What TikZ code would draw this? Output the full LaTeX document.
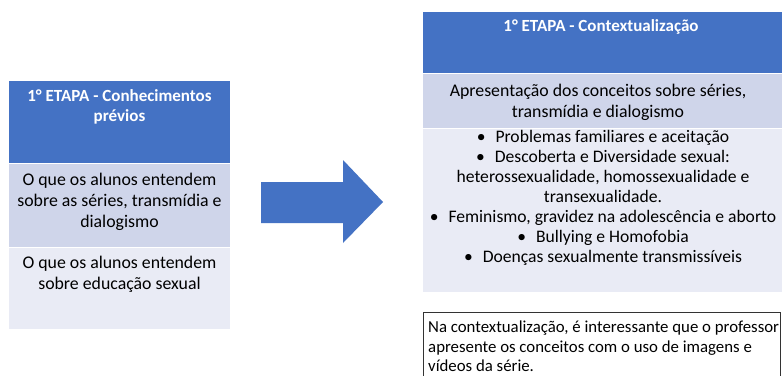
\documentclass[tikz,border=0pt]{standalone}
\usepackage{fontspec}
\setmainfont{Carlito}
\definecolor{hdr}{HTML}{4472C4}
\definecolor{rowa}{HTML}{CFD5EA}
\definecolor{rowb}{HTML}{E9EBF5}
\begin{document}
\begin{tikzpicture}[x=1pt,y=-1pt,
  hdrtext/.style={text=white,font=\fontsize{17}{20}\selectfont\bfseries,align=center,anchor=north,inner sep=0pt},
  celltext/.style={font=\fontsize{17.8}{21}\selectfont,align=center,anchor=north,inner sep=0pt},
  bultext/.style={font=\fontsize{17.6}{20}\selectfont,align=center,anchor=north,inner sep=0pt},
  notetext/.style={font=\fontsize{16.8}{19.5}\selectfont,align=left,anchor=north west,inner sep=0pt}]
\useasboundingbox (0,0) rectangle (782,375);
\fill[white] (0,0) rectangle (782,375);
% left table
\fill[hdr]  (9,81) rectangle (230,163);
\fill[rowa] (9,163) rectangle (230,247);
\fill[rowb] (9,247) rectangle (230,329);
\draw[white,line width=1pt] (9,163) -- (230,163) (9,247) -- (230,247);
\node[hdrtext] (lh) at (119.5,89) {1° ETAPA - Conhecimentos\\prévios};
\node[celltext] (l1) at (119.5,173) {O que os alunos entendem\\sobre as séries, transmídia e\\dialogismo};
\node[celltext] (l2) at (119.5,256) {O que os alunos entendem\\sobre educação sexual};
% arrow
\fill[hdr] (261,182) -- (343,182) -- (343,160) -- (383,202) -- (343,243) -- (343,223) -- (261,223) -- cycle;
% right table
\fill[hdr]  (423,12) rectangle (782,73);
\fill[rowa] (423,73) rectangle (782,128);
\fill[rowb] (423,128) rectangle (782,292);
\draw[white,line width=1pt] (423,73) -- (782,73) (423,128) -- (782,128);
\node[hdrtext] (rh) at (601,19) {1° ETAPA - Contextualização};
\node[celltext] (r1) at (598,84) {Apresentação dos conceitos sobre séries,\\transmídia e dialogismo};
\node[bultext] (r2) at (603,130) {•\hspace{10pt}Problemas familiares e aceitação\\
•\hspace{10pt}Descoberta e Diversidade sexual:\\
heterossexualidade, homossexualidade e\\
transexualidade.\\
•\hspace{10pt}Feminismo, gravidez na adolescência e aborto\\
•\hspace{10pt}Bullying e Homofobia\\
•\hspace{10pt}Doenças sexualmente transmissíveis};
% note box
\draw[black!80,line width=0.8pt] (423,390) -- (423,312) -- (780,312) -- (780,390);
\node[notetext] (nt) at (428,321) {Na contextualização, é interessante que o professor\\apresente os conceitos com o uso de imagens e\\vídeos da série.};
\end{tikzpicture}
\end{document}
